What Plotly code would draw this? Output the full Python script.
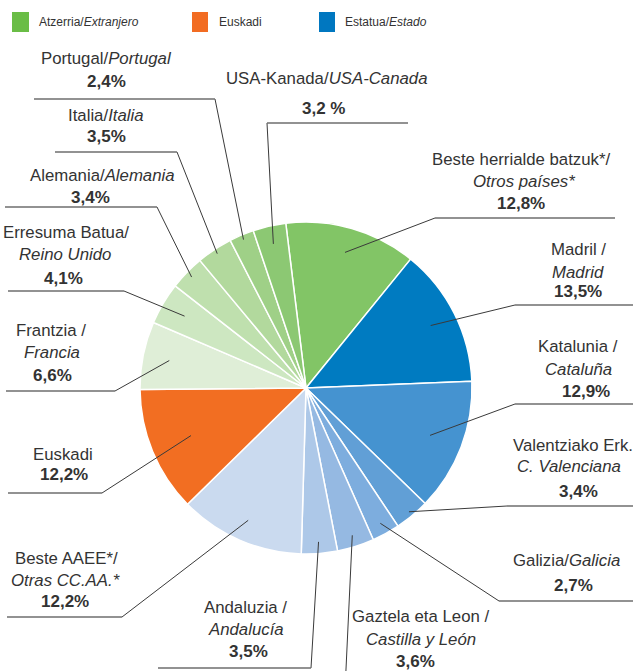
import math
import plotly.graph_objects as go

# ---------------- data ----------------
names_eu = ["Beste herrialde batzuk*/", "Madril /", "Katalunia /", "Valentziako Erk.",
            "Galizia/", "Gaztela eta Leon /", "Andaluzia /", "Beste AAEE*/", "Euskadi",
            "Frantzia /", "Erresuma Batua/", "Alemania/", "Italia/", "Portugal/", "USA-Kanada/"]
names_es = ["Otros países*", "Madrid", "Cataluña", "C. Valenciana", "Galicia",
            "Castilla y León", "Andalucía", "Otras CC.AA.*", "", "Francia",
            "Reino Unido", "Alemania", "Italia", "Portugal", "USA-Canada"]
values = [12.8, 13.5, 12.9, 3.4, 2.7, 3.6, 3.5, 12.2, 12.2, 6.6, 4.1, 3.4, 3.5, 2.4, 3.2]
pct_text = ["12,8%", "13,5%", "12,9%", "3,4%", "2,7%", "3,6%", "3,5%", "12,2%", "12,2%",
            "6,6%", "4,1%", "3,4%", "3,5%", "2,4%", "3,2 %"]
legend_labels = ["Atzerria/<i>Extranjero</i>", "Euskadi", "Estatua/<i>Estado</i>"]

# ---------------- styles / layout ----------------
W, H = 633, 671
CX, CY, R = 306, 388, 166
ROT = -7
colors = ["#82C566", "#007BC1", "#4593D0", "#619FD6", "#7DADDE", "#95B9E2", "#ADC8E8",
          "#CADAEF", "#F26E22", "#DFEED7", "#CDE7C1", "#BFE0AE", "#B2D99D", "#9FD087", "#8CC873"]
legend_colors = ["#6ABD46", "#F26C22", "#0077C0"]

NAMEFONT = "Liberation Sans, Arial, sans-serif"
BOLD = "Liberation Sans, Arial, sans-serif"
TXT = "#333333"
NAME_SIZE = 16.8

# how each name is written: two lines or one joined line
one_line = {4, 11, 12, 13, 14}

# label placement: (name line centres), pct centre, leader radius fraction, elbow, horizontal end
lab = {
    0: dict(lines=[(521, 159), (524, 181)], pct=(521, 204), rf=0.85, elbow=(435, 218), hend=615),
    1: dict(lines=[(578, 250), (578, 272)], pct=(578, 291), rf=0.84, elbow=(515, 305), hend=640),
    2: dict(lines=[(578, 347), (578, 369)], pct=(586, 391), rf=0.80, elbow=(515, 404), hend=640),
    3: dict(lines=[(511, 445), (515, 466)], pct=(578, 491), rf=0.97, elbow=(507, 506), hend=640, left=True),
    4: dict(lines=[(566, 560)], pct=(573, 585), rf=0.93, elbow=(499, 601), hend=640),
    5: dict(lines=[(420, 616), (421, 639)], pct=(415, 661), rf=0.93, elbow=(345.5, 680), hend=None),
    6: dict(lines=[(245, 607), (246, 629)], pct=(248, 651), rf=0.93, elbow=(311, 668), hend=158),
    7: dict(lines=[(66, 558), (65, 580)], pct=(65, 601), rf=0.87, elbow=(122, 617), hend=7),
    8: dict(lines=[(63, 454)], pct=(64, 475), rf=0.75, elbow=(102, 493), hend=8),
    9: dict(lines=[(51, 330), (52, 352)], pct=(52, 375), rf=0.84, elbow=(115, 391), hend=6),
    10: dict(lines=[(66, 232), (65, 254)], pct=(63, 278), rf=0.85, elbow=(124, 291), hend=8),
    11: dict(lines=[(102, 175)], pct=(90, 197), rf=0.96, elbow=(157, 207), hend=5),
    12: dict(lines=[(106, 115)], pct=(107, 137), rf=0.97, elbow=(177, 152), hend=55),
    13: dict(lines=[(106, 59)], pct=(107, 82), rf=0.97, elbow=(215, 99), hend=34),
    14: dict(lines=[(327, 79)], pct=(323, 108), rf=0.89, elbow=(267, 123), hend=408),
}


def px(x):
    return x / W


def py(y):
    return 1 - y / H


fig = go.Figure()
fig.add_trace(go.Pie(
    values=values,
    labels=[n + e for n, e in zip(names_eu, names_es)],
    sort=False, direction="clockwise", rotation=ROT,
    marker=dict(colors=colors, line=dict(color="white", width=1.5)),
    textinfo="none", hoverinfo="skip", showlegend=False,
    domain=dict(x=[(CX - R) / W, (CX + R) / W], y=[(H - CY - R) / H, (H - CY + R) / H]),
))

shapes = []
annotations = []

# leader lines from slice mid-angles (computed from values)
total = sum(values)
cum = 0.0
for i, v in enumerate(values):
    mid = ROT + (cum + v / 2) / total * 360.0
    cum += v
    L = lab[i]
    a = math.radians(mid)
    x0 = CX + L["rf"] * R * math.sin(a)
    y0 = CY - L["rf"] * R * math.cos(a)
    ex, ey = L["elbow"]
    shapes.append(dict(type="line", xref="paper", yref="paper",
                       x0=px(x0), y0=py(y0), x1=px(ex), y1=py(ey),
                       line=dict(color="#3a3a3a", width=1)))
    if L["hend"] is not None:
        shapes.append(dict(type="line", xref="paper", yref="paper",
                           x0=px(ex), y0=py(ey), x1=px(L["hend"]), y1=py(ey),
                           line=dict(color="#6e6e6e", width=1.5)))
    # text
    if i in one_line:
        texts = [names_eu[i] + "<i>" + names_es[i] + "</i>"]
    elif names_es[i]:
        texts = [names_eu[i], "<i>" + names_es[i] + "</i>"]
    else:
        texts = [names_eu[i]]
    for t, (tx, ty) in zip(texts, L["lines"]):
        annotations.append(dict(xref="paper", yref="paper", x=px(tx), y=py(ty),
                                text=t, showarrow=False,
                                xanchor="left" if L.get("left") else "center", yanchor="middle",
                                font=dict(family=NAMEFONT, size=NAME_SIZE, color=TXT)))
    annotations.append(dict(xref="paper", yref="paper", x=px(L["pct"][0]), y=py(L["pct"][1]),
                            text="<b>" + pct_text[i] + "</b>", showarrow=False,
                            xanchor="center", yanchor="middle",
                            font=dict(family=BOLD, size=17, color=TXT)))

# custom legend
leg_sq = [(12, 29), (192, 208), (319, 335)]
leg_tx = [37, 217, 343]
for (a0, a1), tx, c, t in zip(leg_sq, leg_tx, legend_colors, legend_labels):
    shapes.append(dict(type="rect", xref="paper", yref="paper",
                       x0=px(a0), x1=px(a1), y0=py(32), y1=py(12),
                       fillcolor=c, line=dict(width=0)))
    annotations.append(dict(xref="paper", yref="paper", x=px(tx), y=py(22), text=t,
                            showarrow=False, xanchor="left", yanchor="middle",
                            font=dict(family=NAMEFONT, size=12, color=TXT)))

fig.update_layout(
    width=W, height=H,
    margin=dict(l=0, r=0, t=0, b=0),
    paper_bgcolor="white", plot_bgcolor="white",
    shapes=shapes, annotations=annotations,
)

fig.write_html("out.html", config={"displayModeBar": False},
               post_script="document.body.style.margin='0px';")
